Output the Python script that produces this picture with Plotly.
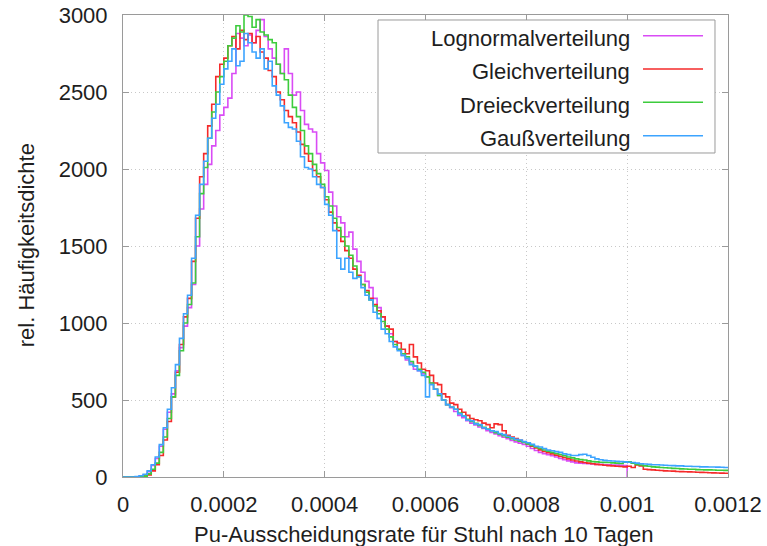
import numpy as np
import plotly.graph_objects as go

# histogram binning (rate axis)
BIN_WIDTH = 8e-6

# relative frequency density per bin, one list per input distribution
lognormal = [
    0, 0, 0, 2, 6, 14, 35, 75, 120, 200,
    310, 420, 540, 690, 840, 980, 1100, 1250, 1500, 1740,
    1900, 2030, 2150, 2250, 2350, 2400, 2460, 2620, 2880, 2850,
    2800, 2870, 2820, 2900, 2970, 2860, 2780, 2720, 2680, 2620,
    2780, 2620, 2480, 2500, 2380, 2290, 2260, 2240, 2100, 2040,
    1990, 1850, 1760, 1690, 1650, 1560, 1590, 1480, 1400, 1330,
    1270, 1230, 1160, 1100, 1040, 980, 930, 880, 830, 790,
    760, 740, 700, 690, 670, 650, 610, 570, 530, 500,
    470, 450, 425, 400, 385, 365, 350, 338, 325, 315,
    300, 290, 280, 268, 258, 248, 238, 228, 220, 212,
    200, 185, 172, 160, 152, 145, 138, 130, 120, 112,
    105, 98, 92, 90, 88, 86, 84, 82, 82, 80,
    80, 78, 77, 76, 75,
]

gleich = [
    0, 0, 0, 0, 1, 4, 14, 40, 80, 140,
    240, 360, 520, 680, 860, 1040, 1160, 1400, 1680, 1950,
    2100, 2280, 2420, 2600, 2680, 2720, 2800, 2860, 2780, 2900,
    2840, 2880, 2820, 2860, 2760, 2720, 2640, 2600, 2500, 2450,
    2380, 2340, 2300, 2240, 2160, 2100, 2050, 1990, 1950, 1880,
    1800, 1720, 1650, 1600, 1530, 1470, 1420, 1350, 1310, 1250,
    1210, 1160, 1120, 1080, 1040, 980, 960, 880, 870, 830,
    800, 860, 780, 740, 700, 690, 660, 610, 600, 540,
    520, 480, 470, 440, 420, 400, 380, 372, 365, 350,
    340, 320, 345, 340, 300, 270, 260, 250, 238, 226,
    214, 200, 188, 176, 166, 158, 150, 142, 134, 126,
    118, 110, 104, 98, 94, 90, 86, 82, 80, 76,
    74, 72, 70, 68, 66, 70, 62, 78, 72, 50,
    48, 46, 44, 42, 40, 39, 38, 36, 35, 34,
    33, 32, 31, 30, 29, 28, 27, 26, 25, 24,
]

dreieck = [
    0, 0, 0, 0, 2, 6, 20, 50, 90, 160,
    260, 380, 520, 660, 820, 1000, 1120, 1260, 1560, 1840,
    2010, 2200, 2370, 2500, 2600, 2700, 2800, 2850, 2930, 2890,
    3000, 2990, 2920, 2970, 2890, 2870, 2840, 2820, 2680, 2620,
    2580, 2480, 2400, 2340, 2250, 2150, 2100, 2030, 1970, 1900,
    1820, 1760, 1680, 1620, 1560, 1500, 1440, 1370, 1300, 1250,
    1200, 1150, 1110, 1060, 1010, 960, 910, 860, 830, 800,
    780, 750, 720, 700, 680, 650, 610, 570, 530, 500,
    470, 455, 440, 415, 395, 375, 360, 348, 335, 322,
    312, 300, 288, 278, 268, 258, 248, 240, 232, 224,
    215, 205, 195, 185, 175, 168, 160, 153, 146, 138,
    130, 124, 118, 113, 110, 105, 100, 98, 96, 95,
    94, 92, 90, 88, 96, 98, 90, 82, 78, 72,
    70, 66, 64, 62, 60, 58, 56, 55, 53, 52,
    50, 50, 48, 47, 46, 46, 45, 44, 44, 43,
]

gauss = [
    0, 0, 0, 3, 8, 18, 40, 80, 130, 210,
    320, 440, 580, 730, 900, 1060, 1180, 1420, 1700, 1900,
    2050, 2200, 2330, 2420, 2550, 2650, 2700, 2780, 2670, 2700,
    2880, 2820, 2760, 2720, 2780, 2650, 2700, 2540, 2480, 2410,
    2300, 2270, 2260, 2180, 2080, 2010, 2000, 1950, 1900, 1880,
    1770, 1700, 1600, 1420, 1350, 1420, 1330, 1290, 1300, 1230,
    1180, 1150, 1070, 1030, 960, 930, 880, 845, 820, 790,
    770, 730, 720, 690, 660, 520, 600, 570, 540, 500,
    470, 455, 440, 410, 395, 370, 365, 345, 340, 320,
    310, 300, 295, 282, 275, 265, 255, 245, 240, 230,
    222, 212, 200, 195, 185, 175, 170, 165, 160, 150,
    145, 140, 140, 145, 148, 140, 128, 118, 112, 108,
    106, 104, 102, 100, 98, 96, 94, 90, 86, 84,
    82, 80, 80, 78, 76, 75, 74, 72, 72, 70,
    70, 68, 68, 66, 66, 65, 65, 64, 63, 62,
]

series_names = ["Lognormalverteilung", "Gleichverteilung", "Dreieckverteilung", "Gaußverteilung"]
series_values = [lognormal, gleich, dreieck, gauss]
series_colors = ["#d94cf5", "#f52a2a", "#3ccc3c", "#3ca4ff"]

x_tickvals = [0, 0.0002, 0.0004, 0.0006, 0.0008, 0.001, 0.0012]
x_ticktext = ["0", "0.0002", "0.0004", "0.0006", "0.0008", "0.001", "0.0012"]
y_tickvals = [0, 500, 1000, 1500, 2000, 2500, 3000]

FONT = "Liberation Sans, Arial, sans-serif"
FS = 22
TEXT = "#1e1e1e"
FRAME = "#9a9a9a"

fig = go.Figure()

for name, vals, color in zip(series_names, series_values, series_colors):
    edges = np.arange(len(vals) + 1) * BIN_WIDTH
    y = list(vals) + [vals[-1]]
    x = list(edges)
    if edges[-1] < x_tickvals[-1] - 1e-12:
        # outline drops back to zero where the distribution ends
        x.append(edges[-1])
        y.append(0)
    fig.add_trace(go.Scatter(
        x=x, y=y, mode="lines", name=name,
        line=dict(color=color, width=1.6, shape="hv"),
        showlegend=False, hoverinfo="skip",
    ))

axis_common = dict(
    showline=True, linecolor=FRAME, linewidth=1, mirror="allticks",
    ticks="inside", ticklen=6, tickcolor=FRAME, tickwidth=1,
    showgrid=True, gridcolor="#c8c8c8", griddash="1px,3px", gridwidth=1,
    zeroline=False, automargin=False,
    tickfont=dict(family=FONT, size=FS, color=TEXT),
)

fig.update_xaxes(
    range=[0, 0.0012], tickvals=x_tickvals, ticktext=x_ticktext,
    ticklabelstandoff=8, **axis_common,
)
fig.update_yaxes(
    range=[0, 3000], tickvals=y_tickvals,
    ticklabelstandoff=10, **axis_common,
)

# legend box drawn in paper coordinates, keys to the right of the labels
legend_x0, legend_x1 = 0.4215, 0.9785
legend_y0, legend_y1 = 0.7013, 0.9892
shapes = [dict(type="rect", xref="paper", yref="paper",
               x0=legend_x0, x1=legend_x1, y0=legend_y0, y1=legend_y1,
               line=dict(color=FRAME, width=1), fillcolor="white", layer="above")]
annotations = []
row_y = [0.9552, 0.8831, 0.8110, 0.7387]
for name, color, yy in zip(series_names, series_colors, row_y):
    shapes.append(dict(type="line", xref="paper", yref="paper",
                       x0=0.8595, x1=0.9587, y0=yy, y1=yy,
                       line=dict(color=color, width=1.6), layer="above"))
    annotations.append(dict(text=name, xref="paper", yref="paper",
                            x=0.8413, y=yy - 0.006, xanchor="right", yanchor="middle",
                            showarrow=False,
                            font=dict(family=FONT, size=FS, color=TEXT)))

annotations.append(dict(text="Pu-Ausscheidungsrate für Stuhl nach 10 Tagen",
                        xref="paper", yref="paper", x=0.4975, y=-0.1234,
                        xanchor="center", yanchor="middle", showarrow=False,
                        font=dict(family=FONT, size=FS, color=TEXT)))
annotations.append(dict(text="rel. Häufigkeitsdichte",
                        xref="paper", yref="paper", x=-0.160, y=0.502,
                        xanchor="center", yanchor="middle", showarrow=False,
                        textangle=-90,
                        font=dict(family=FONT, size=FS, color=TEXT)))

fig.update_layout(
    width=767, height=546,
    margin=dict(l=123, r=39, t=15, b=69),
    paper_bgcolor="white", plot_bgcolor="white",
    shapes=shapes, annotations=annotations,
    showlegend=False,
)

fig.write_html("out.html")
